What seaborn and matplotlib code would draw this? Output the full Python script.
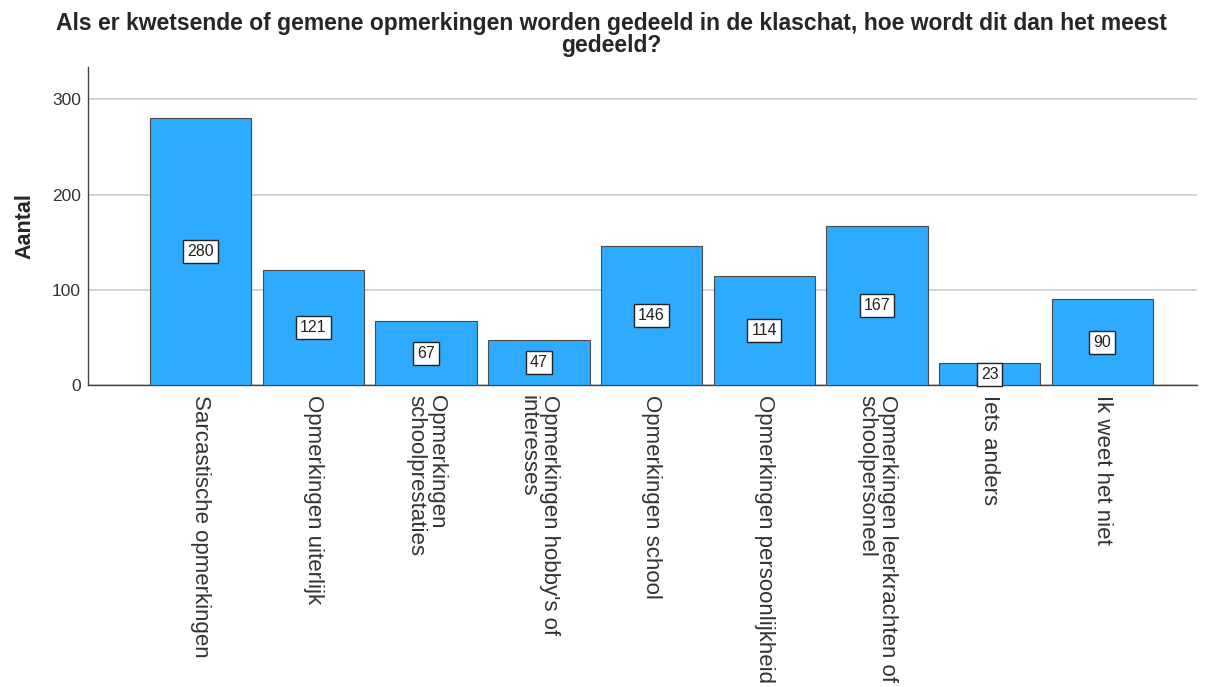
import pandas as pd
import seaborn as sns
import matplotlib.pyplot as plt

# data
categories = [
    "Sarcastische opmerkingen",
    "Opmerkingen uiterlijk",
    "Opmerkingen\nschoolprestaties",
    "Opmerkingen hobby's of\ninteresses",
    "Opmerkingen school",
    "Opmerkingen persoonlijkheid",
    "Opmerkingen leerkrachten of\nschoolpersoneel",
    "Iets anders",
    "Ik weet het niet",
]
counts = [280, 121, 67, 47, 146, 114, 167, 23, 90]

df = pd.DataFrame({"categorie": categories, "aantal": counts})

sns.set_style("white")
plt.rcParams["font.family"] = ["Liberation Sans", "DejaVu Sans"]

fig = plt.figure(figsize=(12.1, 6.87), dpi=100)
ax = fig.add_axes([88 / 1210, 1 - 385 / 687, (1197 - 88) / 1210, (385 - 67) / 687])

sns.barplot(data=df, x="categorie", y="aantal", color="#2EAAFF", saturation=1,
            width=0.9, edgecolor="#4a4a4a", linewidth=0.8, ax=ax, zorder=3)

ax.set_ylim(0, 334)
ax.set_xlim(-1.0, 8.84)
ax.set_yticks([0, 100, 200, 300])
ax.yaxis.grid(True, color="#cccccc", linewidth=1.2, zorder=0)
ax.set_axisbelow(True)

for s in ["top", "right"]:
    ax.spines[s].set_visible(False)
for s in ["left", "bottom"]:
    ax.spines[s].set_color("#444444")
    ax.spines[s].set_linewidth(1.0)

# value labels in the middle of each bar
for i, v in enumerate(counts):
    ax.text(i, v / 2, str(v), ha="center", va="center", fontsize=11.5, color="#222222",
            zorder=5,
            bbox=dict(boxstyle="square,pad=0.25", facecolor="white", edgecolor="#222222", linewidth=1))

ax.set_xlabel("")
ax.set_ylabel("Aantal", fontsize=15.5, fontweight="bold", labelpad=12)
ax.tick_params(axis="y", labelsize=12.5, length=0, pad=5, colors="#333333")
ax.tick_params(axis="x", length=0, pad=7)
ax.set_xticks(range(len(categories)))
ax.set_xticklabels(categories, rotation=270, fontsize=16, color="#333333",
                   ha="center", va="top", multialignment="left", linespacing=1.0)

fig.suptitle("Als er kwetsende of gemene opmerkingen worden gedeeld in de klaschat, hoe wordt dit dan het meest\ngedeeld?",
             x=0.505, y=0.983, fontsize=16.5, fontweight="bold", linespacing=0.95)

fig.savefig("out.png", dpi=100)
